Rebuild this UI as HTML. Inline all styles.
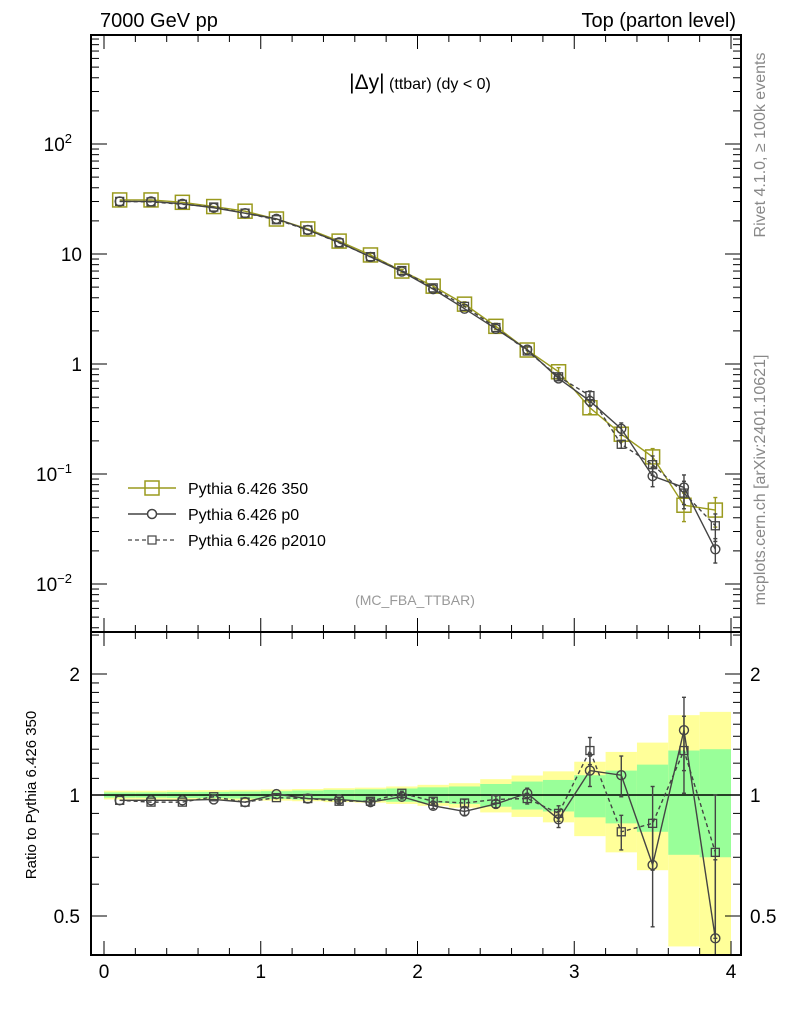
<!DOCTYPE html>
<html><head><meta charset="utf-8"><style>
html,body{margin:0;padding:0;background:#fff;}
svg text{font-family:"Liberation Sans",sans-serif;}
</style></head><body>
<svg id="chart" width="786" height="1024" viewBox="0 0 786 1024" xmlns="http://www.w3.org/2000/svg">
<g id="bands"></g>
<g id="main"></g>
<g id="ratio"></g>
<g id="axes"></g>
<text x="100" y="27" font-size="20">7000 GeV pp</text>
<text x="736" y="27" font-size="20" text-anchor="end">Top (parton level)</text>
<text x="420" y="89" font-size="16" text-anchor="middle"><tspan font-size="21">|Δy|</tspan> (ttbar) (dy &lt; 0)</text>
<text x="415" y="605" font-size="14" fill="#999" text-anchor="middle">(MC_FBA_TTBAR)</text>
<text transform="translate(765,145) rotate(-90)" font-size="16" fill="#888" text-anchor="middle">Rivet 4.1.0, ≥ 100k events</text>
<text transform="translate(765,480) rotate(-90)" font-size="16" fill="#888" text-anchor="middle">mcplots.cern.ch [arXiv:2401.10621]</text>
<text transform="translate(36,795) rotate(-90)" font-size="15" text-anchor="middle">Ratio to Pythia 6.426 350</text>
<g>
<g>
<line x1="128" y1="488" x2="176" y2="488" stroke="#9a9a1e" stroke-width="1.5"/>
<rect x="145" y="481" width="14" height="14" fill="none" stroke="#9a9a1e" stroke-width="1.5"/>
<text x="188" y="494" font-size="16">Pythia 6.426 350</text></g>
<g>
<line x1="128" y1="514" x2="176" y2="514" stroke="#444" stroke-width="1.5"/>
<circle cx="152" cy="514" r="4.5" fill="#fff" stroke="#444" stroke-width="1.5"/>
<text x="188" y="520" font-size="16">Pythia 6.426 p0</text></g>
<g>
<line x1="128" y1="540" x2="176" y2="540" stroke="#444" stroke-width="1.2" stroke-dasharray="4,3"/>
<rect x="148" y="536" width="8" height="8" fill="#fff" stroke="#444" stroke-width="1.2"/>
<text x="188" y="546" font-size="16">Pythia 6.426 p2010</text></g>
</g>
</svg>
<script>
const xCenters=[0.1,0.3,0.5,0.7,0.9,1.1,1.3,1.5,1.7,1.9,2.1,2.3,2.5,2.7,2.9,3.1,3.3,3.5,3.7,3.9];
const ref350=[31,31,29.5,27,24.5,20.8,16.9,13.1,9.8,7.0,5.1,3.5,2.2,1.34,0.85,0.40,0.23,0.143,0.052,0.047];
const ratioP0=[0.97,0.97,0.97,0.975,0.96,1.005,0.98,0.975,0.96,0.99,0.94,0.91,0.95,1.01,0.87,1.15,1.12,0.67,1.45,0.44];
const ratioP2010=[0.97,0.96,0.96,0.99,0.96,0.985,0.98,0.965,0.965,1.01,0.965,0.955,0.975,0.98,0.9,1.29,0.81,0.85,1.29,0.72];
const errP0=[0.005,0.005,0.005,0.006,0.006,0.007,0.008,0.009,0.01,0.012,0.015,0.02,0.02,0.03,0.04,0.1,0.13,0.2,0.3,0.25];
const errP2010=[0.005,0.005,0.005,0.006,0.006,0.007,0.008,0.009,0.01,0.012,0.015,0.02,0.02,0.03,0.04,0.1,0.08,0.2,0.28,0.28];
const yellowErr=[0.025,0.025,0.027,0.028,0.03,0.032,0.035,0.04,0.043,0.05,0.06,0.07,0.095,0.118,0.145,0.21,0.28,0.35,0.58,0.61];
const greenErr=[0.015,0.015,0.017,0.018,0.02,0.022,0.026,0.03,0.033,0.038,0.045,0.05,0.065,0.08,0.09,0.12,0.15,0.19,0.29,0.30];
const xTicks=[0,1,2,3,4];
const yTicksMain=[{v:100,l:"10",e:"2"},{v:10,l:"10",e:""},{v:1,l:"1",e:""},{v:0.1,l:"10",e:"−1"},{v:0.01,l:"10",e:"−2"}];
const yTicksRatio=[2,1,0.5];

const NS="http://www.w3.org/2000/svg";
const L=91,R=741,MT=35,MB=632,RB=955;
const X=v=>104+v*156.75;
const YM=v=>364-110*Math.log10(v);
const YR=v=>795-121*Math.log2(v);
function mk(tag,attrs,parent){const e=document.createElementNS(NS,tag);for(const k in attrs)e.setAttribute(k,attrs[k]);parent.appendChild(e);return e;}
const bands=document.getElementById('bands'),main=document.getElementById('main'),ratio=document.getElementById('ratio'),axes=document.getElementById('axes');
const OL="#9a9a1e",DG="#444";
xCenters.forEach((c,i)=>{
  const x0=X(c-0.1),x1=X(c+0.1);
  const yt=Math.max(MB,YR(1+yellowErr[i])),yb=Math.min(RB,YR(Math.max(0.3,1-yellowErr[i])));
  const r=mk('rect',{x:x0,y:yt,width:x1-x0,height:yb-yt,fill:'#ffff99'},bands);
  
  
  const gt=YR(1+greenErr[i]),gb=YR(1-greenErr[i]);
  const g=mk('rect',{x:x0,y:gt,width:x1-x0,height:gb-gt,fill:'#99ff99'},bands);
  
  
});
mk('line',{x1:L,y1:795,x2:R,y2:795,stroke:'#000','stroke-width':1.5},ratio);
function series(parent,vals,errs,Y,color,dash,marker,name){
  const g=mk('g',{},parent);
  
  
  const pts=xCenters.map((c,i)=>X(c)+','+Y(vals[i])).join(' ');
  const pl={points:pts,fill:'none',stroke:color,'stroke-width':1.4};if(dash)pl['stroke-dasharray']=dash;
  mk('polyline',pl,g);
  xCenters.forEach((c,i)=>{
    const x=X(c),y=Y(vals[i]);
    const top=Y(vals[i]+errs[i]),bot=Y(Math.max(vals[i]-errs[i],1e-4));
    const b=Math.min(bot,parent===ratio?RB:MB);
    if(b-top>3){mk('line',{x1:x,y1:top,x2:x,y2:b,stroke:color,'stroke-width':1.4},g);
      mk('line',{x1:x-2,y1:top,x2:x+2,y2:top,stroke:color,'stroke-width':1.4},g);
      mk('line',{x1:x-2,y1:b,x2:x+2,y2:b,stroke:color,'stroke-width':1.4},g);}
    let m;
    if(marker==='bigsq')m=mk('rect',{x:x-7,y:y-7,width:14,height:14,fill:'none',stroke:color,'stroke-width':1.5},g);
    else if(marker==='circ')m=mk('circle',{cx:x,cy:y,r:4.5,fill:'none',stroke:color,'stroke-width':1.4},g);
    else m=mk('rect',{x:x-4,y:y-4,width:8,height:8,fill:'none',stroke:color,'stroke-width':1.3},g);
    
    
  });
}
const vP0=ref350.map((v,i)=>v*ratioP0[i]),vP2=ref350.map((v,i)=>v*ratioP2010[i]);
series(main,ref350,ref350.map((v,i)=>v*greenErr[i]),YM,OL,null,'bigsq','series-350');
series(main,vP2,vP2.map((v,i)=>v*errP2010[i]),YM,DG,'4,3','sq','series-p2010');
series(main,vP0,vP0.map((v,i)=>v*errP0[i]),YM,DG,null,'circ','series-p0');
series(ratio,ratioP2010,errP2010,YR,DG,'4,3','sq','ratio-p2010');
series(ratio,ratioP0,errP0,YR,DG,null,'circ','ratio-p0');
mk('rect',{x:L,y:MT,width:R-L,height:MB-MT,fill:'none',stroke:'#000','stroke-width':2},axes);
mk('rect',{x:L,y:MB,width:R-L,height:RB-MB,fill:'none',stroke:'#000','stroke-width':2},axes);
for(let k=0;k<=20;k++){const v=k*0.2,x=X(v);if(x>R)break;const maj=k%5===0;const len=maj?14:7;
  [MT,MB].forEach(t=>mk('line',{x1:x,y1:t,x2:x,y2:t+len,stroke:'#000','stroke-width':1},axes));
  [MB,RB].forEach(b=>mk('line',{x1:x,y1:b,x2:x,y2:b-len,stroke:'#000','stroke-width':1},axes));}
xTicks.forEach(v=>{const t=mk('text',{x:X(v),y:978,'font-size':19,'text-anchor':'middle'},axes);t.textContent=v;
  
  });
for(let d=-3;d<=3;d++)for(let m=1;m<10;m++){const v=m*Math.pow(10,d),y=YM(v);if(y<MT||y>MB)continue;const len=m===1?16:8;
  mk('line',{x1:L,y1:y,x2:L+len,y2:y,stroke:'#000','stroke-width':1},axes);
  mk('line',{x1:R,y1:y,x2:R-len,y2:y,stroke:'#000','stroke-width':1},axes);}
yTicksMain.forEach(o=>{const t=mk('text',{x:o.e?72:82,y:YM(o.v)+7,'font-size':19,'text-anchor':'end'},axes);t.textContent=o.l;
  if(o.e){const s=mk('tspan',{'font-size':13,dy:-8},t);s.textContent=o.e;}
  
  });
const rt=[0.4,0.5,0.6,0.7,0.8,0.9,1,1.1,1.2,1.3,1.4,1.5,1.6,1.7,1.8,1.9,2,2.5];
rt.forEach(v=>{const y=YR(v);if(y<MB||y>RB)return;const maj=yTicksRatio.includes(v);const len=maj?16:8;
  mk('line',{x1:L,y1:y,x2:L+len,y2:y,stroke:'#000','stroke-width':1},axes);
  mk('line',{x1:R,y1:y,x2:R-len,y2:y,stroke:'#000','stroke-width':1},axes);});
yTicksRatio.forEach(v=>{
  const t=mk('text',{x:80,y:YR(v)+7,'font-size':19,'text-anchor':'end'},axes);t.textContent=v;
  
  
  const t2=mk('text',{x:750,y:YR(v)+7,'font-size':19},axes);t2.textContent=v;
  
  });
</script>
</body></html>
